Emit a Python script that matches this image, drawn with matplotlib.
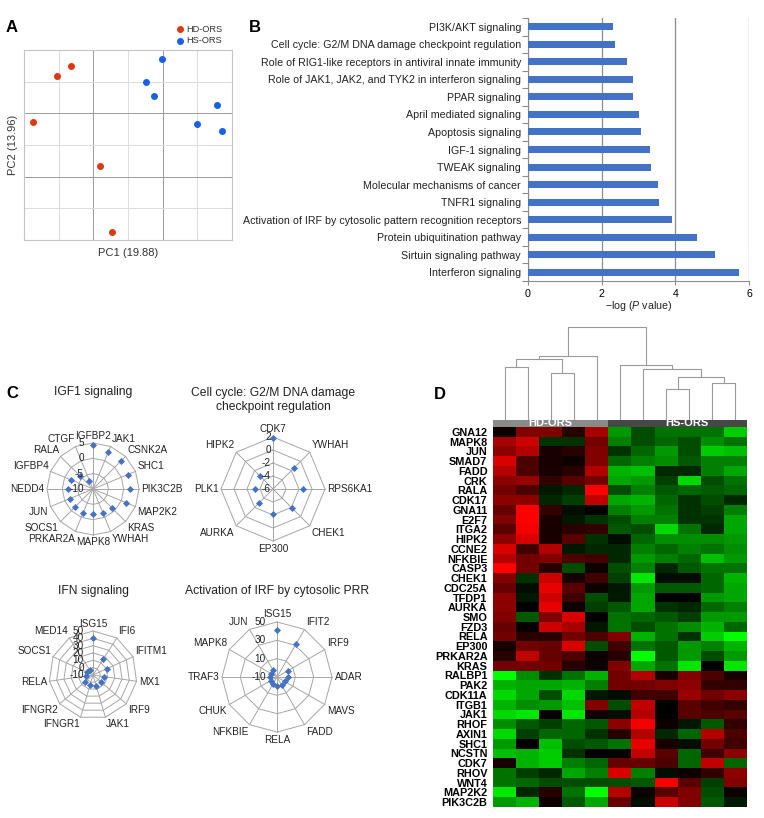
import numpy as np
import matplotlib

matplotlib.use("Agg")
import matplotlib.pyplot as plt
from matplotlib.colors import LinearSegmentedColormap

plt.rcParams["font.family"] = ["Liberation Sans", "DejaVu Sans"]
plt.rcParams["mathtext.fontset"] = "custom"
plt.rcParams["mathtext.rm"] = "Liberation Sans"
plt.rcParams["mathtext.it"] = "Liberation Sans:italic"

# ── Panel A: PCA ──────────────────────────────────────────────────────
pca_hd_x = [1.36, 0.96, 0.27, 2.19, 2.54]
pca_hd_y = [5.50, 5.18, 3.74, 2.34, 0.26]
pca_hs_x = [3.97, 3.51, 3.75, 5.58, 4.99, 5.71]
pca_hs_y = [5.73, 5.00, 4.56, 4.25, 3.65, 3.44]

# ── Panel B: pathways (top to bottom) ────────────────────────────────
pathways = [
    "PI3K/AKT signaling",
    "Cell cycle: G2/M DNA damage checkpoint regulation",
    "Role of RIG1-like receptors in antiviral innate immunity",
    "Role of JAK1, JAK2, and TYK2 in interferon signaling",
    "PPAR signaling",
    "April mediated signaling",
    "Apoptosis signaling",
    "IGF-1 signaling",
    "TWEAK signaling",
    "Molecular mechanisms of cancer",
    "TNFR1 signaling",
    "Activation of IRF by cytosolic pattern recognition receptors",
    "Protein ubiquitination pathway",
    "Sirtuin signaling pathway",
    "Interferon signaling",
]
neglog_p = [2.30, 2.37, 2.68, 2.86, 2.86, 3.00, 3.06, 3.32, 3.35, 3.52,
            3.56, 3.92, 4.58, 5.07, 5.74]

# ── Panel C: radar charts ────────────────────────────────────────────
igf1_genes = ["IGFBP2", "JAK1", "CSNK2A", "SHC1", "PIK3C2B", "MAP2K2", "KRAS",
              "YWHAH", "MAPK8", "PRKAR2A", "SOCS1", "JUN", "NEDD4", "IGFBP4",
              "RALA", "CTGF"]
igf1_vals = [4.4, 3.0, 2.9, 2.2, 2.0, 1.6, -1.4, -1.5, -1.8, -1.6, -1.7,
             -1.8, -2.0, -2.3, -3.8, -7.0]
igf1_ticks = [-10, -5, 0, 5]

cc_genes = ["CDK7", "YWHAH", "RPS6KA1", "CHEK1", "EP300", "AURKA", "PLK1", "HIPK2"]
cc_vals = [1.9, -1.4, -1.4, -1.9, -2.1, -2.9, -3.2, -3.2]
cc_ticks = [-6, -4, -2, 0, 2]

ifn_genes = ["ISG15", "IFI6", "IFITM1", "MX1", "IRF9", "JAK1", "IFNGR1",
             "IFNGR2", "RELA", "SOCS1", "MED14"]
ifn_vals = [41, 16, 10.5, 5.3, 4.5, 5.4, 4.4, 5.1, -1.0, -1.0, -1.8]
ifn_ticks = [-10, 0, 10, 20, 30, 40, 50]

irf_genes = ["ISG15", "IFIT2", "IRF9", "ADAR", "MAVS", "FADD", "RELA",
             "NFKBIE", "CHUK", "TRAF3", "MAPK8", "JUN"]
irf_vals = [41, 31, 4.1, 1.6, -0.2, 0.2, -0.5, -1.6, -2.2, -2.4, -2.7, -1.3]
irf_ticks = [-10, 10, 30, 50]

# ── Panel D: heatmap ─────────────────────────────────────────────────
heat_genes = ["GNA12", "MAPK8", "JUN", "SMAD7", "FADD", "CRK", "RALA", "CDK17",
              "GNA11", "E2F7", "ITGA2", "HIPK2", "CCNE2", "NFKBIE", "CASP3",
              "CHEK1", "CDC25A", "TFDP1", "AURKA", "SMO", "FZD3", "RELA",
              "EP300", "PRKAR2A", "KRAS", "RALBP1", "PAK2", "CDK11A", "ITGB1",
              "JAK1", "RHOF", "AXIN1", "SHC1", "NCSTN", "CDK7", "RHOV", "WNT4",
              "MAP2K2", "PIK3C2B"]
heat_groups = ["HD-ORS", "HS-ORS"]
heat_values = [
    [0.05, 0.50, 0.50, 0.15, 0.65, -0.60, -0.30, -0.45, -0.45, -0.45, -0.80],
    [0.65, 0.80, -0.20, -0.20, 0.45, -0.50, -0.30, -0.40, -0.30, -0.55, -0.45],
    [0.55, 0.70, 0.10, 0.15, 0.50, -0.20, -0.40, -0.60, -0.30, -0.80, -0.75],
    [0.85, 0.30, 0.10, 0.05, 0.50, -0.40, -0.50, -0.55, -0.35, -0.50, -0.50],
    [0.70, 0.30, 0.10, 0.15, 0.70, -0.70, -0.75, -0.15, -0.15, -0.50, -0.65],
    [0.55, 0.60, 0.20, 0.35, 0.45, -0.65, -0.60, -0.25, -0.85, -0.30, -0.45],
    [0.45, 0.30, -0.10, -0.15, 1.00, -0.30, -0.50, -0.35, -0.40, -0.35, -0.40],
    [0.55, 0.55, -0.15, -0.25, 0.75, -0.65, -0.70, -0.40, -0.20, -0.30, -0.15],
    [0.40, 1.00, 0.20, -0.05, 0.00, -0.50, -0.60, -0.45, -0.20, -0.25, -0.50],
    [0.50, 1.00, 0.10, -0.10, -0.20, -0.30, -0.50, -0.50, -0.20, -0.20, -0.65],
    [0.35, 0.95, 0.10, 0.15, 0.20, -0.35, -0.30, -0.85, -0.45, -0.15, -0.65],
    [0.55, 0.85, 0.10, 0.35, -0.20, -0.05, -0.40, -0.55, -0.55, -0.55, -0.60],
    [0.85, 0.25, 0.70, -0.10, -0.15, -0.15, -0.50, -0.40, -0.50, -0.45, -0.55],
    [0.70, 0.45, 0.50, 0.30, 0.25, -0.15, -0.60, -0.50, -0.40, -0.75, -0.60],
    [1.00, 0.45, 0.15, -0.30, 0.05, -0.30, -0.50, -0.15, -0.35, -0.45, -0.45],
    [0.50, -0.20, 0.80, 0.10, 0.25, -0.25, -0.90, -0.05, -0.05, -0.40, -0.70],
    [0.40, -0.05, 0.90, 0.35, 0.05, -0.10, -0.60, -0.35, -0.35, -0.40, -0.65],
    [0.55, -0.10, 0.80, 0.25, -0.30, -0.10, -0.65, 0.00, 0.00, -0.60, -0.65],
    [0.55, 0.00, 0.90, 0.05, -0.25, -0.35, -0.65, -0.20, -0.15, -0.40, -0.50],
    [0.50, -0.35, 0.50, 0.85, 0.00, -0.45, -0.40, -0.35, -0.25, -0.60, -0.60],
    [0.40, 0.03, 0.80, 0.65, -0.10, -0.45, -0.30, -0.45, -0.55, -0.70, -0.40],
    [0.45, 0.15, 0.15, 0.45, 0.30, 0.50, -0.70, -0.45, -0.20, -0.80, -1.00],
    [0.10, 0.45, 0.40, 0.85, -0.30, 0.25, -0.45, -0.35, -0.60, -0.50, -0.70],
    [0.15, 0.75, 0.40, 0.30, 0.05, 0.15, -1.00, -0.35, -0.60, -0.30, -0.60],
    [0.45, 0.45, 0.45, 0.15, 0.05, 0.50, -0.65, -0.45, -0.90, 0.00, -0.90],
    [-1.00, -0.55, -0.20, -0.45, -0.70, 0.45, 0.70, 0.10, 0.50, 0.30, 0.10],
    [-0.70, -0.65, -0.65, -0.70, -0.50, 0.45, 0.45, 0.50, 0.55, 0.20, 0.20],
    [-0.85, -0.65, -0.30, -0.85, -0.10, -0.05, 0.25, 0.25, 0.60, 0.45, 0.55],
    [-0.70, -0.55, -0.60, -0.75, 0.50, -0.30, 0.75, 0.00, 0.35, 0.25, 0.20],
    [-0.85, -0.90, 0.03, -0.90, 0.08, -0.05, 0.70, 0.00, 0.35, 0.30, 0.35],
    [-0.55, -0.35, -0.25, -0.40, -0.35, 0.55, 0.95, 0.05, -0.10, -0.35, 0.20],
    [-0.85, -0.25, -0.40, -0.40, -0.20, 0.15, 0.70, -0.15, -0.40, 0.70, 0.30],
    [-0.60, 0.00, -0.75, -0.30, -0.35, -0.45, 0.90, 0.10, -0.05, 0.45, 0.25],
    [-0.75, -0.70, -0.80, -0.20, 0.03, 0.03, 0.75, 0.35, -0.40, 0.25, 0.55],
    [0.10, -0.70, -0.80, -0.50, -0.40, 0.40, 0.40, 0.30, -0.40, 0.75, -0.40],
    [-0.45, -0.25, -0.15, -0.65, -0.50, 0.85, -0.50, -0.05, 0.05, 0.20, 0.55],
    [-0.45, -0.40, -0.30, -0.30, -0.30, -0.30, -0.35, 0.95, 0.35, -0.25, 0.50],
    [-0.90, -0.15, 0.15, -0.45, -1.00, 0.70, 0.05, 0.35, 0.50, -0.30, 0.05],
    [-0.60, -0.70, 0.05, -0.35, -0.65, 0.40, -0.05, 0.80, 0.50, -0.35, -0.10],
]
# dendrogram merges: (child a, child b, height); leaves are 0..10
dendro_merges = [
    (0, 1, 53), (2, 3, 47), (11, 12, 61), (13, 4, 64),
    (7, 8, 31), (9, 10, 37), (15, 16, 43), (6, 17, 51), (5, 18, 55),
    (14, 19, 93),
]

RED = "#dc3912"
BLUE_PT = "#1a5fe8"
BAR_BLUE = "#4472c4"
GRID = "#a6a6a6"
TXT = "#222222"

W, H = 764, 818
fig = plt.figure(figsize=(W / 100, H / 100), dpi=100)
fig.patch.set_facecolor("white")


def px_axes(left, top, right, bottom):
    return fig.add_axes([left / W, 1 - bottom / H, (right - left) / W, (bottom - top) / H])


def letter(x, y, s):
    fig.text(x / W, 1 - y / H, s, fontsize=12, fontweight="bold", ha="center", va="center")


# ── A ────────────────────────────────────────────────────────────────
ax = px_axes(24, 50, 232, 240)
ax.set_xlim(0, 6)
ax.set_ylim(0, 6)
ax.set_xticks([2, 4])
ax.set_yticks([2, 4])
ax.set_xticks([1, 3, 5], minor=True)
ax.set_yticks([1, 3, 5], minor=True)
ax.tick_params(which="both", length=0, labelbottom=False, labelleft=False)
ax.grid(which="major", color="#9a9a9a", lw=0.7)
ax.grid(which="minor", color="#dcdcdc", lw=0.7)
ax.set_axisbelow(True)
for sp in ax.spines.values():
    sp.set_color("#c4c4c4")
ax.scatter(pca_hd_x, pca_hd_y, s=16, color=RED, label="HD-ORS", zorder=3)
ax.scatter(pca_hs_x, pca_hs_y, s=16, color=BLUE_PT, label="HS-ORS", zorder=3)
ax.set_xlabel("PC1 (19.88)", fontsize=8, color="#333333", labelpad=6)
ax.set_ylabel("PC2 (13.96)", fontsize=8, color="#333333", labelpad=4)
ax.legend(loc="lower right", bbox_to_anchor=(0.955, 1.025), frameon=False,
          fontsize=6.7, handletextpad=-0.3, borderaxespad=0.0, labelspacing=0.25,
          borderpad=0.0, markerscale=1.0, labelcolor="#333333")
letter(12, 27, "A")

# ── B ────────────────────────────────────────────────────────────────
ax = px_axes(528, 18, 749, 281)
ypos = np.arange(len(pathways))[::-1]
ax.barh(ypos, neglog_p, height=0.4, color=BAR_BLUE, zorder=3)
ax.set_ylim(-0.5, len(pathways) - 0.5)
ax.set_xlim(0, 6)
ax.set_xticks([0, 2, 4, 6])
ax.set_yticks(ypos)
ax.set_yticklabels(pathways, fontsize=7.7, color=TXT)
ax.set_yticks(np.arange(-0.5, len(pathways)), minor=True)
ax.tick_params(axis="y", which="major", length=0, pad=5)
ax.tick_params(axis="y", which="minor", length=4, color="#8c8c8c", width=0.8)
ax.tick_params(axis="x", length=3, color="#8c8c8c", labelsize=7.7, pad=3)
ax.grid(axis="x", color="#8c8c8c", lw=0.9)
for sp in ["top", "right"]:
    ax.spines[sp].set_visible(False)
for sp in ["left", "bottom"]:
    ax.spines[sp].set_color("#8c8c8c")
ax.set_xlabel("\u2212log ($\\mathit{P}$ value)", fontsize=7.7, labelpad=0, color=TXT)
letter(255, 27, "B")


# ── C: radars ────────────────────────────────────────────────────────
def radar(cx, cy, rad, labels, values, ticks, tick_dx):
    pad = 1.8
    size = 2 * pad * rad
    ax = px_axes(cx - size / 2, cy - size / 2, cx + size / 2, cy + size / 2)
    ax.set_xlim(-pad, pad)
    ax.set_ylim(-pad, pad)
    ax.set_aspect("equal")
    ax.axis("off")
    n = len(labels)
    ang = 2 * np.pi * np.arange(n) / n
    sx, sy = np.sin(ang), np.cos(ang)
    vmin, vmax = ticks[0], ticks[-1]
    for t in ticks[1:]:
        r = (t - vmin) / (vmax - vmin)
        ax.plot(np.append(sx, sx[0]) * r, np.append(sy, sy[0]) * r, color=GRID, lw=0.7)
    for x, y in zip(sx, sy):
        ax.plot([0, x], [0, y], color=GRID, lw=0.7)
    r = (np.asarray(values) - vmin) / (vmax - vmin)
    ax.scatter(sx * r, sy * r, marker="D", s=13, color=BAR_BLUE, zorder=3, linewidths=0)
    for t in ticks:
        ax.text(-tick_dx / rad, (t - vmin) / (vmax - vmin), f"{t}", ha="right",
                va="center", fontsize=7.2, color=TXT, zorder=4)
    for lab, x, y in zip(labels, sx, sy):
        ha = "left" if x > 0.2 else ("right" if x < -0.2 else "center")
        va = "bottom" if y > 0.2 else ("top" if y < -0.2 else "center")
        ax.text(x * 1.05, y * 1.05, lab, ha=ha, va=va, fontsize=7.2, color=TXT)


def title(x, y, s):
    fig.text(x / W, 1 - y / H, s, fontsize=8.7, ha="center", va="center",
             linespacing=1.3, color=TXT)


radar(93, 489, 46, igf1_genes, igf1_vals, igf1_ticks, 9)
title(93, 392, "IGF1 signaling")
radar(273, 489, 52, cc_genes, cc_vals, cc_ticks, 2)
title(273, 400, "Cell cycle: G2/M DNA damage\ncheckpoint regulation")
radar(93, 675, 44, ifn_genes, ifn_vals, ifn_ticks, 9)
title(93, 591, "IFN signaling")
radar(277, 677, 55, irf_genes, irf_vals, irf_ticks, 11)
title(277, 591, "Activation of IRF by cytosolic PRR")
letter(12, 393, "C")

# ── D: heatmap ───────────────────────────────────────────────────────
cmap = LinearSegmentedColormap.from_list("gbr", ["#00ff00", "#000000", "#ff0000"])
ax = px_axes(493, 427, 747, 807)
ax.imshow(np.array(heat_values), cmap=cmap, vmin=-1, vmax=1, aspect="auto",
          interpolation="nearest")
ax.set_yticks(range(len(heat_genes)))
ax.set_yticklabels(heat_genes, fontsize=7.8, fontweight="bold")
ax.set_xticks([])
ax.tick_params(axis="y", length=0, pad=4)
for sp in ax.spines.values():
    sp.set_visible(False)

n_hd = 5
n_cols = len(heat_values[0])
ax = px_axes(493, 420, 747, 427)
ax.barh([0], [n_hd], left=-0.5, height=1, color="#8a8a8a")
ax.barh([0], [n_cols - n_hd], left=n_hd - 0.5, height=1, color="#474747")
ax.set_xlim(-0.5, n_cols - 0.5)
ax.set_ylim(-0.5, 0.5)
ax.axis("off")
ax.text((n_hd - 1) / 2, 0, heat_groups[0], ha="center", va="center", color="white",
        fontsize=8, fontweight="bold")
ax.text(7.9, 0, heat_groups[1], ha="center", va="center", color="white",
        fontsize=8, fontweight="bold")

ax = px_axes(493, 325, 747, 420)
ax.set_xlim(-0.5, n_cols - 0.5)
ax.set_ylim(0, 95)
ax.axis("off")
node_x = {i: float(i) for i in range(n_cols)}
node_h = {i: 0.0 for i in range(n_cols)}
for k, (a, b, h) in enumerate(dendro_merges):
    nid = n_cols + k
    xa, xb = node_x[a], node_x[b]
    ax.plot([xa, xa, xb, xb], [node_h[a], h, h, node_h[b]], color="#9a9a9a", lw=0.8)
    node_x[nid] = (xa + xb) / 2
    node_h[nid] = h
letter(440, 394, "D")

fig.savefig("out.png", dpi=100, facecolor="white")
